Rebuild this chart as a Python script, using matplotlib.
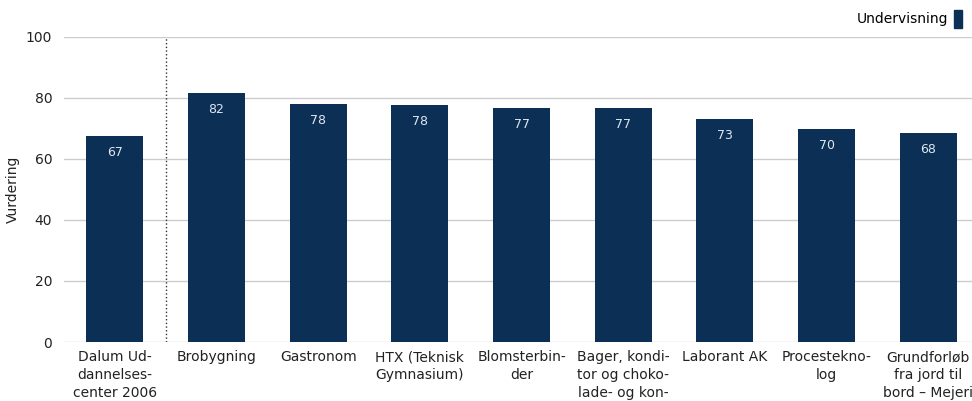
import matplotlib.pyplot as plt
from matplotlib.patches import Patch

# data
categories = ["Dalum Ud-\ndannelses-\ncenter 2006", "Brobygning", "Gastronom",
              "HTX (Teknisk\nGymnasium)", "Blomsterbin-\nder",
              "Bager, kondi-\ntor og choko-\nlade- og kon-", "Laborant AK",
              "Procestekno-\nlog", "Grundforløb\nfra jord til\nbord – Mejeri"]
values = [67.6, 81.8, 78.1, 77.8, 76.8, 76.7, 73.2, 69.9, 68.5]
labels = ["67", "82", "78", "78", "77", "77", "73", "70", "68"]

bar_color = "#0c2f56"
plt.rcParams['font.family'] = ['DejaVu Sans']

fig = plt.figure(figsize=(9.72, 4.01), dpi=100)
ax = fig.add_axes([64 / 972, 1 - 342 / 401, (972 - 64) / 972, (342 - 37) / 401])

x = list(range(len(categories)))
bars = ax.bar(x, values, width=0.56, color=bar_color, zorder=3)
for b, lab in zip(bars, labels):
    ax.text(b.get_x() + b.get_width() / 2, b.get_height() - 3.3, lab,
            ha='center', va='top', color='#dfe6ee', fontsize=9, zorder=4)

ax.set_ylim(0, 100)
ax.set_xlim(-0.5, 8.43)
ax.set_yticks([0, 20, 40, 60, 80, 100])
ax.grid(axis='y', color='#cccccc', linewidth=1, zorder=0)
ax.axvline(0.5, color='#333333', linestyle=':', linewidth=1, zorder=2)

for s in ax.spines.values():
    s.set_visible(False)
ax.tick_params(length=0, labelsize=10.5, colors='#222222')
ax.tick_params(axis='y', labelsize=10, pad=8.5)
ax.set_xticks(x)
ax.set_xticklabels(categories, fontsize=10, linespacing=1.35, va='top')
ax.tick_params(axis='x', pad=6)
ax.set_ylabel("Vurdering", fontsize=10, color='#222222', labelpad=4)

fig.legend(handles=[Patch(color=bar_color)], labels=["Undervisning"],
           loc='upper right', bbox_to_anchor=(1.0, 1.0), frameon=False,
           markerfirst=False, fontsize=10, handlelength=0.6, handleheight=1.6,
           handletextpad=0.4, borderaxespad=0.3)

fig.savefig("out.png", dpi=100)
